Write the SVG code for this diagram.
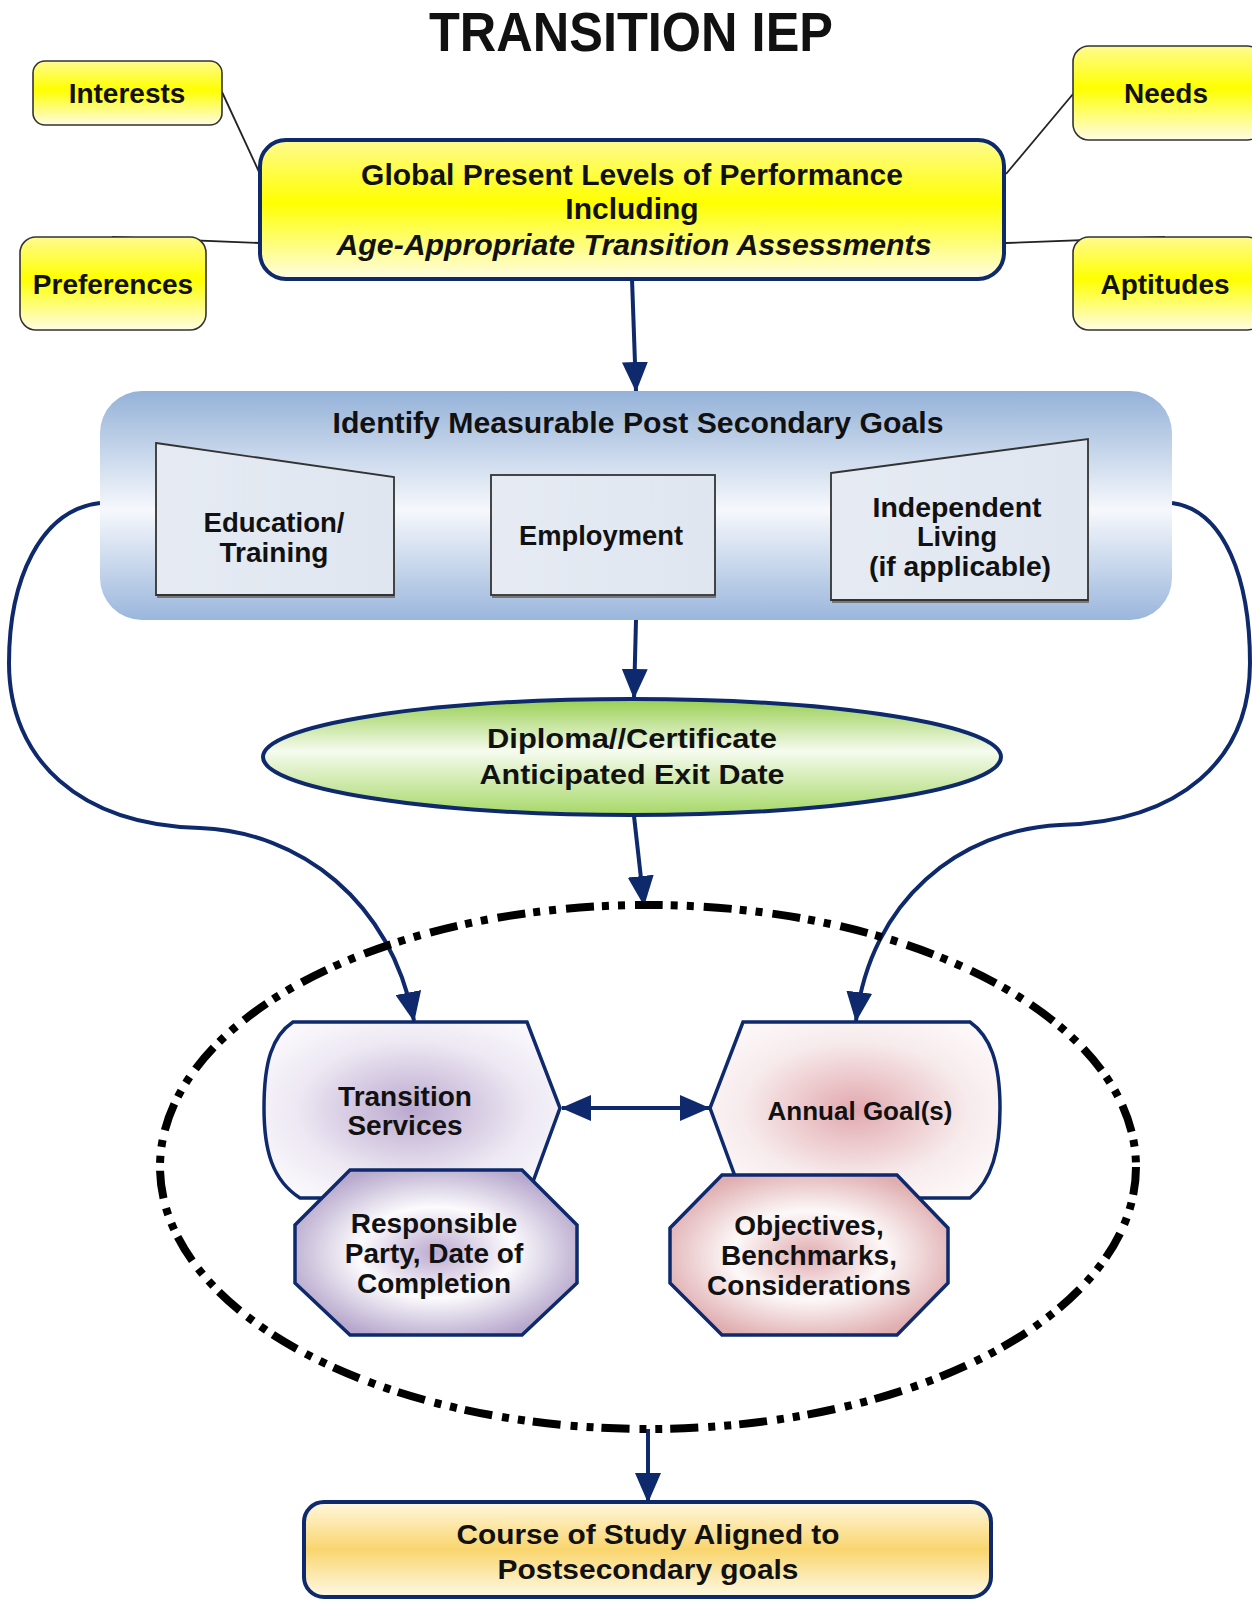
<svg xmlns="http://www.w3.org/2000/svg" width="1252" height="1602" viewBox="0 0 1252 1602">
<defs>
<style>
text{font-family:"Liberation Sans",Arial,sans-serif;font-weight:bold;fill:#111;text-anchor:middle}
.t28{font-size:28px}
.t30{font-size:30px}
.nav{fill:none;stroke:#0e2a6c;stroke-width:4}
.thin{stroke:#222;stroke-width:1.8;fill:none}
.small{stroke:#333;stroke-width:1.6}
.inner{fill:url(#gInner);stroke:#333;stroke-width:1.8}
</style>
<linearGradient id="gYellow" x1="0" y1="0" x2="0" y2="1">
<stop offset="0" stop-color="#fffb90"/><stop offset="0.45" stop-color="#ffff00"/><stop offset="1" stop-color="#fffce6"/>
</linearGradient>
<linearGradient id="gBlue" x1="0" y1="0" x2="0" y2="1">
<stop offset="0" stop-color="#94b2d8"/><stop offset="0.52" stop-color="#f6f8fc"/><stop offset="1" stop-color="#9ab6dc"/>
</linearGradient>
<linearGradient id="gInner" x1="0" y1="0" x2="1" y2="0">
<stop offset="0" stop-color="#e6ebf3"/><stop offset="1" stop-color="#dfe6f0"/>
</linearGradient>
<linearGradient id="gGreen" x1="0" y1="0" x2="0" y2="1">
<stop offset="0" stop-color="#98cf50"/><stop offset="0.45" stop-color="#f6fbef"/><stop offset="1" stop-color="#a6d866"/>
</linearGradient>
<linearGradient id="gGold" x1="0" y1="0" x2="0" y2="1">
<stop offset="0" stop-color="#fff8de"/><stop offset="0.5" stop-color="#f9d56e"/><stop offset="1" stop-color="#fffae6"/>
</linearGradient>
<radialGradient id="gPurple1" cx="0.5" cy="0.5" r="0.6">
<stop offset="0" stop-color="#bba9cf"/><stop offset="0.65" stop-color="#ede8f3"/><stop offset="1" stop-color="#faf8fc"/>
</radialGradient>
<radialGradient id="gPurple2" cx="0.5" cy="0.5" r="0.55">
<stop offset="0" stop-color="#bcaad0"/><stop offset="0.5" stop-color="#fcfbfd"/><stop offset="1" stop-color="#b6a7cc"/>
</radialGradient>
<radialGradient id="gPink1" cx="0.5" cy="0.5" r="0.6">
<stop offset="0" stop-color="#e2a8ae"/><stop offset="0.65" stop-color="#f7ebec"/><stop offset="1" stop-color="#fdf8f8"/>
</radialGradient>
<radialGradient id="gPink2" cx="0.5" cy="0.5" r="0.55">
<stop offset="0" stop-color="#e1acb0"/><stop offset="0.5" stop-color="#fdf9f9"/><stop offset="1" stop-color="#e0aeb1"/>
</radialGradient>
<marker id="arr" markerUnits="userSpaceOnUse" markerWidth="30" markerHeight="26" viewBox="0 0 30 26" refX="29" refY="13" orient="auto-start-reverse">
<path d="M0,0 L30,13 L0,26 Z" fill="#0e2a6c"/>
</marker>
</defs>

<text id="title" x="631" y="51" style="font-size:56px" textLength="404" lengthAdjust="spacingAndGlyphs">TRANSITION IEP</text>

<g id="connectors">
<line class="thin" x1="222" y1="92" x2="260" y2="174"/>
<line class="thin" x1="112" y1="237" x2="260" y2="243"/>
<line class="thin" x1="1073" y1="94" x2="1006" y2="174"/>
<line class="thin" x1="1006" y1="243" x2="1165" y2="237"/>
<path class="nav" d="M632,279 L636,391" marker-end="url(#arr)"/>
<path class="nav" d="M636,620 L634,698" marker-end="url(#arr)"/>
<path class="nav" d="M634,816 L644,905" marker-end="url(#arr)"/>
<path class="nav" d="M100,503 C40,510 9,580 9,663 C9,760 80,825 200,828 C300,832 390,900 414,1021" marker-end="url(#arr)"/>
<path class="nav" d="M1172,503 C1225,510 1250,580 1250,663 C1250,760 1180,822 1060,825 C960,830 870,900 856,1021" marker-end="url(#arr)"/>
<path class="nav" d="M562,1108 L709,1108" marker-start="url(#arr)" marker-end="url(#arr)"/>
<path class="nav" d="M648,1429 L648,1502" marker-end="url(#arr)"/>
</g>

<g id="interests">
<rect x="33" y="61" width="189" height="64" rx="12" fill="url(#gYellow)" class="small"/>
<text class="t28" x="127" y="103">Interests</text>
</g>
<g id="preferences">
<rect x="20" y="237" width="186" height="93" rx="16" fill="url(#gYellow)" class="small"/>
<text class="t28" x="113" y="294">Preferences</text>
</g>
<g id="needs">
<rect x="1073" y="46" width="190" height="94" rx="16" fill="url(#gYellow)" class="small"/>
<text class="t28" x="1166" y="103">Needs</text>
</g>
<g id="aptitudes">
<rect x="1073" y="237" width="190" height="93" rx="16" fill="url(#gYellow)" class="small"/>
<text class="t28" x="1165" y="294">Aptitudes</text>
</g>

<g id="global">
<rect x="260" y="140" width="744" height="139" rx="26" fill="url(#gYellow)" stroke="#0e2a6c" stroke-width="4"/>
<text class="t30" x="632" y="185">Global Present Levels of Performance</text>
<text class="t30" x="632" y="219">Including</text>
<text class="t30" x="634" y="255" font-style="italic" textLength="595" lengthAdjust="spacingAndGlyphs">Age-Appropriate Transition Assessments</text>
</g>

<g id="goals">
<rect x="100" y="391" width="1072" height="229" rx="42" fill="url(#gBlue)"/>
<text class="t30" x="638" y="433" textLength="611" lengthAdjust="spacingAndGlyphs">Identify Measurable Post Secondary Goals</text>
</g>
<g id="education">
<polygon points="156,443 394,477 394,595 156,595" class="inner"/>
<line x1="157" y1="597" x2="395" y2="597" stroke="#777" stroke-width="2"/>
<text class="t28" x="274" y="532" textLength="141" lengthAdjust="spacingAndGlyphs">Education/</text>
<text class="t28" x="274" y="562" textLength="109" lengthAdjust="spacingAndGlyphs">Training</text>
</g>
<g id="employment">
<rect x="491" y="475" width="224" height="120" class="inner"/>
<line x1="492" y1="597" x2="716" y2="597" stroke="#777" stroke-width="2"/>
<text class="t28" x="601" y="545" textLength="164" lengthAdjust="spacingAndGlyphs">Employment</text>
</g>
<g id="independent">
<polygon points="831,473 1088,439 1088,600 831,600" class="inner"/>
<line x1="832" y1="602" x2="1089" y2="602" stroke="#777" stroke-width="2"/>
<text class="t28" x="957" y="517" textLength="169" lengthAdjust="spacingAndGlyphs">Independent</text>
<text class="t28" x="957" y="546" textLength="80" lengthAdjust="spacingAndGlyphs">Living</text>
<text class="t28" x="960" y="576" textLength="182" lengthAdjust="spacingAndGlyphs">(if applicable)</text>
</g>

<g id="diploma">
<ellipse cx="632" cy="757" rx="369" ry="58" fill="url(#gGreen)" stroke="#0e2a6c" stroke-width="4"/>
<text class="t28" x="632" y="748" textLength="290" lengthAdjust="spacingAndGlyphs">Diploma//Certificate</text>
<text class="t28" x="632" y="784" textLength="305" lengthAdjust="spacingAndGlyphs">Anticipated Exit Date</text>
</g>

<g id="iep-group">
<ellipse cx="648" cy="1167" rx="488" ry="262" fill="none" stroke="#000" stroke-width="8" stroke-dasharray="28 8 7 9 7 10"/>
</g>

<g id="transition-services">
<path d="M293,1022 L527,1022 L560,1108 L527,1198 L300,1198 C272,1180 264,1150 264,1108 C264,1062 272,1036 293,1022 Z" fill="url(#gPurple1)" stroke="#0e2a6c" stroke-width="3.5"/>
<text class="t28" x="405" y="1106">Transition</text>
<text class="t28" x="405" y="1135">Services</text>
</g>
<g id="responsible">
<polygon points="350,1170 522,1170 577,1225 577,1283 522,1335 350,1335 295,1283 295,1225" fill="url(#gPurple2)" stroke="#0e2a6c" stroke-width="3.5"/>
<text class="t28" x="434" y="1233">Responsible</text>
<text class="t28" x="434" y="1263">Party, Date of</text>
<text class="t28" x="434" y="1293">Completion</text>
</g>

<g id="annual-goals">
<path d="M743,1022 L970,1022 C990,1036 1000,1062 1000,1108 C1000,1150 992,1180 970,1198 L743,1198 L710,1108 Z" fill="url(#gPink1)" stroke="#0e2a6c" stroke-width="3.5"/>
<text class="t28" x="860" y="1120" style="font-size:26px">Annual Goal(s)</text>
</g>
<g id="objectives">
<polygon points="722,1175 897,1175 948,1228 948,1283 897,1335 722,1335 670,1283 670,1228" fill="url(#gPink2)" stroke="#0e2a6c" stroke-width="3.5"/>
<text class="t28" x="809" y="1235">Objectives,</text>
<text class="t28" x="809" y="1265">Benchmarks,</text>
<text class="t28" x="809" y="1295">Considerations</text>
</g>

<g id="course">
<rect x="304" y="1502" width="687" height="95" rx="20" fill="url(#gGold)" stroke="#0e2a6c" stroke-width="4"/>
<text class="t28" x="648" y="1544" textLength="383" lengthAdjust="spacingAndGlyphs">Course of Study Aligned to</text>
<text class="t28" x="648" y="1579" textLength="301" lengthAdjust="spacingAndGlyphs">Postsecondary goals</text>
</g>
</svg>
